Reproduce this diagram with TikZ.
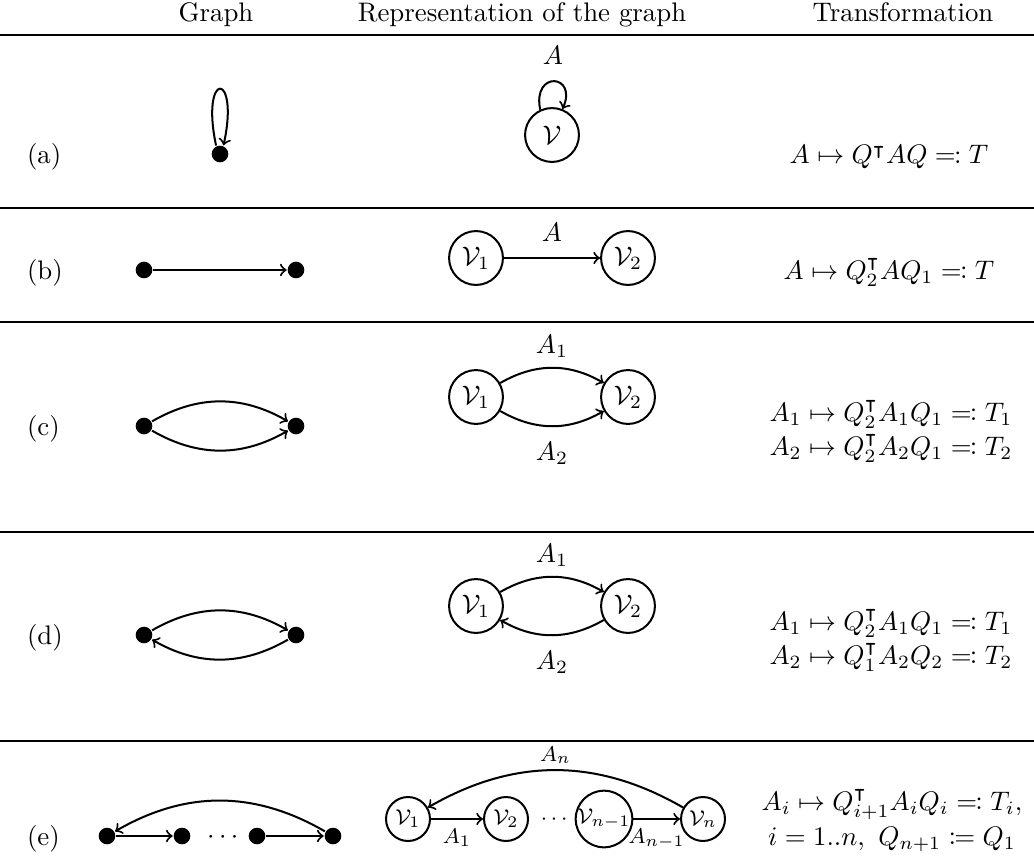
\documentclass[tikz,border=0pt]{standalone}
\usepackage{amsmath,amssymb,mathtools}
\begin{document}
\begin{tikzpicture}[x=0.373pt,y=-0.373pt,line width=0.75pt,
  vtx/.style={circle,fill=black,inner sep=0pt,minimum size=6.2pt},
  bigc/.style={circle,draw,inner sep=0pt,minimum size=20.1pt},
  smallc/.style={circle,draw,inner sep=0pt,minimum size=16.4pt,font=\footnotesize},
  rulel/.style={line width=1.1pt},
  txt/.style={anchor=base}]
\useasboundingbox (0,0) rectangle (1034,859);
% header
\node[txt] (hg) at (216,22) {Graph};
\node[txt] (hr) at (522,22) {Representation of the graph};
\node[txt] (ht) at (903,22) {Transformation};
\draw[rulel] (0,35) -- (1034,35);
\draw[rulel] (0,208) -- (1034,208);
\draw[rulel] (0,322) -- (1034,322);
\draw[rulel] (0,532) -- (1034,532);
\draw[rulel] (0,741) -- (1034,741);
% labels
\node[anchor=base west,inner sep=0pt] (la) at (26,164) {(a)};
\node[anchor=base west,inner sep=0pt] (lb) at (26,279) {(b)};
\node[anchor=base west,inner sep=0pt] (lc) at (26,435) {(c)};
\node[anchor=base west,inner sep=0pt] (ld) at (26,644) {(d)};
\node[anchor=base west,inner sep=0pt] (le) at (26,845) {(e)};
% row a
\node[vtx] (ga) at (220,154) {};
\draw[->] (ga.115) .. controls (200,70) and (240,70) .. (ga.68);
\node[bigc] (va) at (552,135) {$\mathcal{V}$};
\draw[->] (va.115) .. controls (532,70) and (578,74) .. (va.68);
\node (lA) at (553,55) {$A$};
\node[txt] (ta) at (889,164) {$A \mapsto Q^{\intercal} A Q \eqqcolon T$};
% row b
\node[vtx] (gb1) at (144,270) {};
\node[vtx] (gb2) at (296,270) {};
\draw[->] (gb1) -- (gb2);
\node[bigc] (vb1) at (476,258) {$\mathcal{V}_1$};
\node[bigc] (vb2) at (628,258) {$\mathcal{V}_2$};
\draw[->] (vb1) -- node[above=2.6pt] {$A$} (vb2);
\node[txt] (tb) at (889,279) {$A \mapsto Q_2^{\intercal} A Q_1 \eqqcolon T$};
% row c
\node[vtx] (gc1) at (144,426) {};
\node[vtx] (gc2) at (296,426) {};
\draw[->] (gc1) to[bend left=30] (gc2);
\draw[->] (gc1) to[bend right=30] (gc2);
\node[bigc] (vc1) at (476,397) {$\mathcal{V}_1$};
\node[bigc] (vc2) at (628,397) {$\mathcal{V}_2$};
\draw[->] (vc1) to[bend left=30] node[above] {$A_1$} (vc2);
\draw[->] (vc1) to[bend right=30] node[below=2.2pt] {$A_2$} (vc2);
\node[txt] (tc1) at (891,421) {$A_1 \mapsto Q_2^{\intercal} A_1 Q_1 \eqqcolon T_1$};
\node[txt] (tc2) at (891,455) {$A_2 \mapsto Q_2^{\intercal} A_2 Q_1 \eqqcolon T_2$};
% row d
\node[vtx] (gd1) at (144,635) {};
\node[vtx] (gd2) at (296,635) {};
\draw[->] (gd1) to[bend left=30] (gd2);
\draw[->] (gd2) to[bend left=30] (gd1);
\node[bigc] (vd1) at (476,606) {$\mathcal{V}_1$};
\node[bigc] (vd2) at (628,606) {$\mathcal{V}_2$};
\draw[->] (vd1) to[bend left=30] node[above] {$A_1$} (vd2);
\draw[->] (vd2) to[bend left=30] node[below=2.2pt] {$A_2$} (vd1);
\node[txt] (td1) at (891,630) {$A_1 \mapsto Q_2^{\intercal} A_1 Q_1 \eqqcolon T_1$};
\node[txt] (td2) at (891,664) {$A_2 \mapsto Q_1^{\intercal} A_2 Q_2 \eqqcolon T_2$};
% row e
\node[vtx] (ge1) at (107,836) {};
\node[vtx] (ge2) at (182,836) {};
\node[txt] (gedots) at (225,843) {$\cdots$};
\node[vtx] (ge3) at (257,836) {};
\node[vtx] (ge4) at (333,836) {};
\draw[->] (ge1) -- (ge2);
\draw[->] (ge3) -- (ge4);
\draw[->] (ge4) to[bend right=30] (ge1);
\node[smallc] (ve1) at (408,819) {$\mathcal{V}_1$};
\node[smallc] (ve2) at (506,819) {$\mathcal{V}_2$};
\node[txt,font=\footnotesize] (vedots) at (556,824) {$\cdots$};
\node[smallc] (ve3) at (604,819) {$\mathcal{V}_{n-1}$};
\node[smallc] (ve4) at (703,819) {$\mathcal{V}_n$};
\draw[->] (ve1) -- node[below,font=\footnotesize] {$A_1$} (ve2);
\draw[->] (ve3) -- node[below,font=\footnotesize] {$A_{n-1}$} (ve4);
\draw[->] (ve4) to[bend right=30] node[above,inner sep=2pt,font=\footnotesize] {$A_n$} (ve1);
\node[txt] (te1) at (892,810) {$A_i \mapsto Q_{i+1}^{\intercal} A_i Q_i \eqqcolon T_i,$};
\node[txt] (te2) at (892,845) {$i = 1..n,\ Q_{n+1} \coloneqq Q_1$};
\end{tikzpicture}
\end{document}
